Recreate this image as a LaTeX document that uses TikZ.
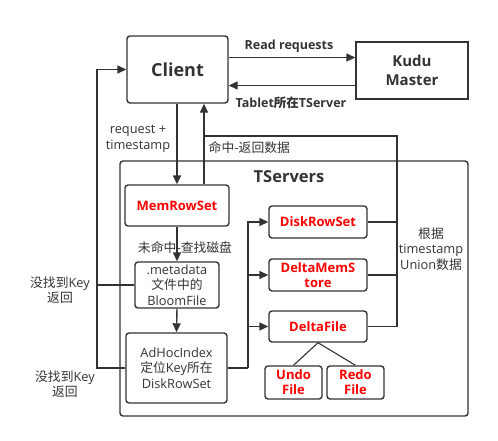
\documentclass[tikz,border=0pt]{standalone}
\usepackage{fontspec}
\setmainfont{Open Sans}
\newfontfamily\cjk{Noto Sans CJK SC}
\usepackage{tikz}
\usetikzlibrary{arrows.meta}

\definecolor{line}{HTML}{333333}
\definecolor{hot}{HTML}{FF0000}

\begin{document}
\begin{tikzpicture}[x=1pt, y=-1pt, line width=1.4pt, draw=line, text=line,
    >={Triangle[length=9pt,width=8pt]},
    box/.style={draw=line, rounded corners=3pt, align=center, inner sep=0pt},
    redbox/.style={box, text=hot, font=\fontsize{13}{15}\selectfont\bfseries},
    lbl/.style={font=\fontsize{12.8}{15.5}\selectfont, align=center, inner sep=0pt}]

    \useasboundingbox (0,0) rectangle (498,440);

    % nodes
    \node[box, minimum width=348pt, minimum height=255pt] at (294,288.5) (c) {};
    \node[box, minimum width=101pt, minimum height=67pt, font=\fontsize{18}{21}\selectfont\bfseries] at (177.5,69.5) (a) {Client};
    \node[box, rounded corners=0pt, minimum width=112pt, minimum height=57pt, font=\fontsize{15}{19}\selectfont\bfseries] at (412,70.5) (b) {Kudu\\Master};
    \node[redbox, minimum width=104pt, minimum height=41pt] at (177,205.5) (d) {MemRowSet};
    \node[box, lbl, minimum width=84pt, minimum height=46pt] at (177,285) (e) {.metadata\\{\cjk 文件中的}\\BloomFile};
    \node[box, lbl, minimum width=101pt, minimum height=70pt] at (176.5,368) (f) {AdHocIndex\\{\cjk 定位}Key{\cjk 所在}\\DiskRowSet};
    \node[redbox, minimum width=98pt, minimum height=32pt] at (318,222) (g) {DiskRowSet};
    \node[redbox, minimum width=98pt, minimum height=32pt] at (318,275) (h) {DeltaMemS\\tore};
    \node[redbox, minimum width=98pt, minimum height=31pt] at (318,326.5) (i) {DeltaFile};
    \node[redbox, minimum width=57pt, minimum height=33pt] at (293.5,382.5) (j) {Undo\\File};
    \node[redbox, minimum width=57pt, minimum height=33pt] at (355.5,382.5) (k) {Redo\\File};

    % labels
    \node[lbl, font=\fontsize{12.5}{15}\selectfont\bfseries] at (289,46) (l1) {Read requests};
    \node[lbl, font=\fontsize{12.5}{15}\selectfont\bfseries] at (291,103) (l2) {Tablet{\cjk 所在}TServer};
    \node[lbl] at (138,139) (l3) {request +\\timestamp};
    \node[lbl, anchor=west] at (208,148) (l4) {\cjk 命中-返回数据};
    \node[lbl, font=\fontsize{16.5}{19}\selectfont\bfseries] at (289,177) (l5) {TServers};
    \node[lbl] at (185,248) (l6) {\cjk 未命中-查找磁盘};
    \node[lbl] at (60,290) (l7) {{\cjk 没找到}Key\\{\cjk 返回}};
    \node[lbl] at (65,384) (l8) {{\cjk 没找到}Key\\{\cjk 返回}};
    \node[lbl] at (431,249) (l9) {{\cjk 根据}\\timestamp\\Union{\cjk 数据}};

    \coordinate (u) at (397,136);
    \coordinate (v) at (97,368);
    \coordinate (w) at (248,368);

    % paths
    \draw[->] ([yshift=12pt]a.east) -- ([yshift=12pt]a.east -| b.west); % Client -> Master
    \draw[->] ([yshift=-15pt]b.west) -- ([yshift=-15pt]b.west -| a.east); % Master -> Client
    \draw[->] (a.south -| d.north) -- (d.north); % Client -> MemRowSet
    \draw[->] ([xshift=27pt]d.north) -- ([xshift=27pt]d.north |- a.south); % MemRowSet -> Client
    \draw (i.east) -| (u) -- ([xshift=27pt]d.north |- u); % union -> hit
    \draw (g.east) -- (g.east -| u);
    \draw (h.east) -- (h.east -| u);
    \draw[->] (d.south) -- (e.north); % MemRowSet -> metadata
    \draw[->] (e.south) -- (f.north); % metadata -> AdHocIndex
    \draw[->] (f.west) -- (v) |- (a.west); % not found -> Client
    \draw (e.west) -- (e.west -| v); % not found
    \draw (f.east) -- (w); % AdHocIndex -> rowsets
    \draw[->] (w) |- (g.west);
    \draw[->] (w |- h.west) -- (h.west);
    \draw[->] (w |- i.west) -- (i.west);
    \draw[line width=1.1pt] (i.south) -- (j.north); % DeltaFile -> Undo
    \draw[line width=1.1pt] (i.south) -- (k.north); % DeltaFile -> Redo

\end{tikzpicture}
\end{document}
